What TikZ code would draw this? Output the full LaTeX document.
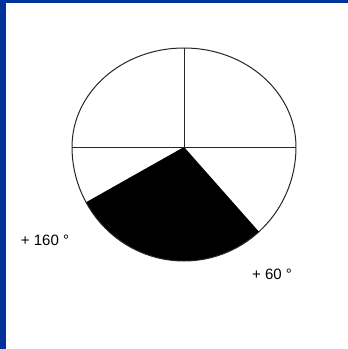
\documentclass[tikz,border=0pt]{standalone}
\usepackage{fontspec}
\setmainfont{Liberation Sans}
\definecolor{frameblue}{RGB}{0,51,153}
\begin{document}
\begin{tikzpicture}[x=1pt,y=1pt]
\useasboundingbox (0,0) rectangle (348,349);
\fill[white] (0,0) rectangle (348,349);
\fill[frameblue] (0,0) rectangle (6,349);
\fill[frameblue] (0,346) rectangle (348,349);
\coordinate (o) at (184,202);
\fill[black] (o) -- ++(209:112 and 114) arc[start angle=209, end angle=312, x radius=112, y radius=114] -- cycle;
\draw[line width=1pt, black!85] (72,202) arc[start angle=180, end angle=360, x radius=112, y radius=114]
  arc[start angle=0, end angle=180, x radius=112, y radius=99];
\draw[line width=0.9pt, black!85] (72,202) -- (296,202);
\draw[line width=0.9pt, black!85] (o) -- (184,301);
\node[font=\fontsize{15}{18}\selectfont] (lbl160) at (45,109) {+ 160 °};
\node[font=\fontsize{15}{18}\selectfont] (lbl60) at (272,75) {+ 60 °};
\end{tikzpicture}
\end{document}
